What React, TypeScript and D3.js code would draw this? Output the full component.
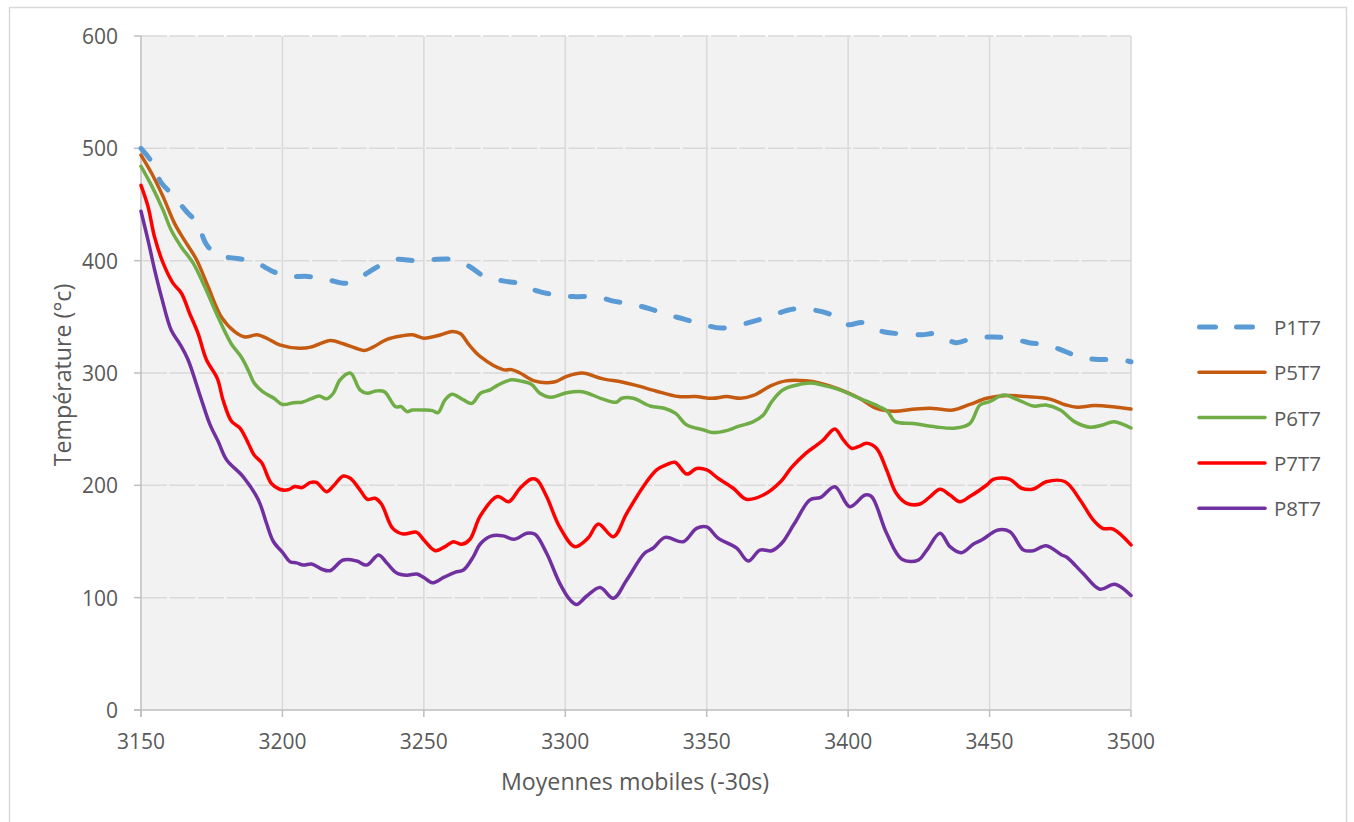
import React from 'react';
import * as d3 from 'd3';

const xTicks = [3150, 3200, 3250, 3300, 3350, 3400, 3450, 3500];
const yTicks = [0, 100, 200, 300, 400, 500, 600];

const P1T7: [number, number][] = [
  [3150, 500], [3152, 494], [3154, 487], [3157, 470], [3161, 459], [3166, 444], [3170, 433], [3173, 415], [3177, 405],
  [3184, 402], [3190, 399], [3197, 390], [3202, 386], [3209, 386], [3216, 383], [3223, 380], [3228, 386],
  [3234, 395], [3240, 401], [3247, 400], [3253, 401], [3260, 401], [3266, 395], [3272, 385], [3278, 382],
  [3285, 379], [3290, 373], [3298, 369], [3303, 368], [3311, 368], [3317, 364], [3324, 361], [3330, 357],
  [3336, 352], [3342, 348], [3349, 343], [3355, 340], [3362, 343], [3368, 347], [3375, 353], [3381, 357],
  [3388, 356], [3394, 352], [3400, 343], [3405, 345], [3412, 337], [3418, 335], [3426, 334], [3431, 335],
  [3438, 327], [3444, 331], [3451, 332], [3457, 331], [3464, 327], [3470, 325], [3476, 320], [3482, 314],
  [3489, 312], [3496, 312], [3500, 310],
];

const P5T7: [number, number][] = [
  [3150, 494], [3153.7, 478], [3157.8, 457], [3161.9, 433], [3165.4, 418], [3169.6, 401], [3173.7, 377], [3178.4, 350],
  [3183, 337], [3186.7, 332], [3191, 334], [3194, 331.5], [3199, 325], [3206, 322], [3210, 323], [3217, 329],
  [3221.5, 326], [3226, 322], [3229, 320], [3232, 323], [3237, 330], [3242, 333], [3246, 334], [3250, 331],
  [3256, 334], [3260, 337], [3263, 335], [3266, 325], [3270, 314.5], [3278, 303], [3281, 303], [3284, 300],
  [3289, 293], [3296, 292], [3300.5, 297], [3306, 300], [3313, 295], [3320, 292], [3325, 289], [3332, 284],
  [3340, 279], [3346, 279], [3352, 277.5], [3357, 279], [3362, 277.5], [3366.5, 280], [3373, 289], [3378, 293],
  [3385, 293], [3390, 291], [3397, 285.5], [3404, 277.5], [3410, 268.5], [3416, 266], [3424, 268], [3430, 268.5],
  [3437, 267], [3443, 272], [3449, 277.5], [3456, 280], [3463, 279], [3471, 277], [3477, 271.5], [3481, 269.5],
  [3487, 271], [3495, 269.5], [3500, 268],
];

const P6T7: [number, number][] = [
  [3150, 484], [3153.7, 467], [3157.8, 445], [3160.7, 427], [3164.3, 412], [3168.4, 398], [3172.5, 377], [3177.2, 350],
  [3181.9, 326], [3185.5, 314], [3188, 302], [3190, 291], [3193, 283.4], [3197, 277.5], [3200, 272], [3204, 273.6],
  [3207, 274], [3210, 277], [3213, 279.5], [3215.6, 277], [3218, 282], [3220.4, 294], [3224, 300], [3227.4, 285],
  [3230, 282], [3233, 284], [3236, 283.4], [3240, 270], [3242, 270], [3244, 265.6], [3246, 267], [3250, 267],
  [3253, 266.5], [3255, 264.7], [3257.5, 276], [3260, 281], [3264, 276], [3267, 273], [3270, 282], [3273.4, 285],
  [3276, 289], [3281, 294], [3284, 293], [3288, 290], [3291, 282], [3295, 278.4], [3300.5, 282.5], [3306, 283.4],
  [3313, 277], [3318, 274], [3320, 277.5], [3324, 277.5], [3330, 270.6], [3335, 268.6], [3339, 264], [3343, 253.7],
  [3349, 249.3], [3352, 247], [3357, 248.7], [3360.6, 252], [3366.5, 256.7], [3370, 262.6], [3373, 274.5], [3377, 285],
  [3382, 289.3], [3387, 291], [3392, 288.5], [3397, 285], [3404, 277.5], [3411, 270], [3414, 265.6], [3416.6, 256.7],
  [3423, 255], [3431, 252], [3438, 251], [3443, 255], [3446.6, 271.5], [3450, 274.5], [3455, 280.4], [3459.6, 276.6],
  [3465.5, 270.6], [3470, 271.5], [3475, 267], [3480, 256.7], [3485.5, 251.7], [3490, 253.7], [3494, 256.7], [3500, 251],
];

const P7T7: [number, number][] = [
  [3150, 467], [3152.5, 448], [3154.8, 421], [3157.8, 398], [3161.3, 380], [3164.3, 371], [3167.2, 353], [3170.2, 335],
  [3173.1, 312], [3177, 295], [3179, 276], [3182, 257], [3185, 251], [3188, 237], [3190, 227], [3192.7, 220],
  [3196, 202], [3199, 196.5], [3202, 196], [3204.4, 199], [3207, 198], [3209.7, 202.4], [3212, 202.7], [3215.6, 194.3],
  [3218, 199.4], [3221.5, 208.3], [3224, 206.3], [3227.4, 196], [3230, 187.6], [3232.7, 188.5], [3235, 183.4], [3239, 161.7],
  [3242.7, 156.7], [3247.5, 158.2], [3250, 151.3], [3254, 141.8], [3257.5, 145.4], [3260.4, 149.8], [3263.4, 147.5], [3266.3, 152],
  [3270, 173], [3276, 190], [3280, 185.4], [3284, 197.4], [3288, 205.6], [3290, 204.8], [3293.4, 190], [3298, 163],
  [3303.4, 145.4], [3308, 153], [3311.7, 165.6], [3317, 154.3], [3321.7, 175], [3327.6, 199], [3332.3, 213.7], [3336, 218.7],
  [3338.8, 220.5], [3343, 210], [3346.4, 215], [3350, 213.7], [3354, 206.3], [3359.4, 197.4], [3364, 187.6], [3370, 191.4],
  [3376, 203], [3380, 216], [3385, 228.5], [3389, 236], [3391.2, 240.4], [3395.3, 250.2], [3398.3, 240.4], [3401.2, 233],
  [3403.6, 234.4], [3406.5, 237.4], [3410, 233], [3413.6, 213.7], [3417, 193], [3420.7, 184], [3425.4, 183.4], [3429, 190],
  [3432.5, 196.5], [3436, 191.4], [3439.5, 185.4], [3443, 190], [3449, 200.3], [3451.3, 205.4], [3457, 205.6], [3461.3, 197.4],
  [3465.5, 196.7], [3470, 203.2], [3476.7, 203.2], [3482, 187], [3486.7, 169], [3490, 161.7], [3493.7, 161], [3500, 147],
];

const P8T7: [number, number][] = [
  [3150, 444], [3152.5, 418], [3154.8, 392], [3157.2, 368], [3160.7, 338], [3163.7, 326], [3166.6, 312], [3171, 279],
  [3174.4, 254], [3177.3, 239], [3180.3, 222.6], [3186, 208], [3191.5, 187], [3194.4, 166], [3196.8, 150], [3200.3, 139.5],
  [3202.7, 132], [3205, 131], [3207.4, 129], [3210.3, 130], [3214, 125.3], [3216.8, 124], [3221.5, 133.5], [3226.3, 132.6],
  [3229.8, 129], [3234, 138], [3237, 130.6], [3240.4, 122], [3244, 120], [3247.5, 121], [3250, 118], [3253, 113.3],
  [3257, 118], [3261, 122.6], [3264, 124.6], [3267.5, 136.5], [3270, 148], [3274, 155], [3278, 155], [3282, 152],
  [3286.4, 157.3], [3289.3, 156.4], [3293.4, 139.5], [3298, 113], [3301.7, 98], [3304, 94], [3307.6, 101.5], [3312.3, 109],
  [3317, 99.4], [3321.7, 115.7], [3328, 139.5], [3331, 144], [3335.3, 153.7], [3341.7, 149.8], [3346.4, 161.7], [3350, 163],
  [3354, 153], [3360.6, 144], [3364.7, 132.6], [3368.8, 142.4], [3373, 141.8], [3376.5, 148.4], [3381, 166], [3386.5, 187],
  [3390.3, 189.3], [3395.3, 198.8], [3400.6, 181], [3406, 191.4], [3408.3, 190], [3413.6, 157.3], [3419, 134.2], [3424.8, 133.5],
  [3427.8, 142.4], [3432.5, 157.3], [3436, 145.4], [3440, 140], [3444.3, 147.8], [3447.2, 151.3], [3453, 160.2], [3457.2, 158.7],
  [3462, 142.4], [3465.5, 141.8], [3470, 146.3], [3475.5, 138], [3477.3, 136], [3483, 121.7], [3489, 107.5], [3494.3, 112],
  [3500, 102],
];

const seriesNames = ['P1T7', 'P5T7', 'P6T7', 'P7T7', 'P8T7'];
const seriesData = [P1T7, P5T7, P6T7, P7T7, P8T7];
const seriesColors = ['#5b9bd5', '#c55a11', '#70ad47', '#ff0000', '#7030a0'];
const seriesDashed = [true, false, false, false, false];

const xTitle = 'Moyennes mobiles (-30s)';
const yTitle = 'Température (°c)';

const FONT = "'Open Sans', 'Noto Sans', sans-serif";
const TEXT = '#595959';

export default function App() {
  const W = 1354;
  const H = 822;
  const left = 141, right = 1131, top = 36, bottom = 710;
  const x = d3.scaleLinear().domain([3150, 3500]).range([left, right]);
  const y = d3.scaleLinear().domain([0, 600]).range([bottom, top]);
  const line = d3
    .line<[number, number]>()
    .x((d) => x(d[0]))
    .y((d) => y(d[1]))
    .curve(d3.curveCatmullRom.alpha(0.5));

  const legendX0 = 1197, legendX1 = 1267, legendY0 = 327, legendDy = 45.3;

  return (
    <svg width={W} height={H} style={{ position: 'absolute', left: 0, top: 0 }} fontFamily={FONT}>
      <rect x={0} y={0} width={W} height={H} fill="#ffffff" />
      <rect x={9.5} y={7.5} width={1337} height={840} fill="#ffffff" stroke="#d9d9d9" strokeWidth={1.5} />
      <rect x={left} y={top} width={right - left} height={bottom - top} fill="#f2f2f2" />
      {yTicks.filter((t) => t > 0).map((t) => (
        <line key={'hg' + t} x1={left} x2={right} y1={y(t)} y2={y(t)} stroke="#d9d9d9" strokeWidth={1.5} strokeDasharray="26 2.5" />
      ))}
      {xTicks.filter((t) => t > 3150).map((t) => (
        <line key={'vg' + t} x1={x(t)} x2={x(t)} y1={top} y2={bottom} stroke="#d9d9d9" strokeWidth={1.5} />
      ))}
      <line x1={left} x2={left} y1={top} y2={bottom + 7} stroke="#bfbfbf" strokeWidth={1.5} />
      <line x1={left - 7} x2={right} y1={bottom} y2={bottom} stroke="#bfbfbf" strokeWidth={1.5} />
      {yTicks.map((t) => (
        <line key={'yt' + t} x1={left - 7} x2={left} y1={y(t)} y2={y(t)} stroke="#bfbfbf" strokeWidth={1.5} />
      ))}
      {xTicks.map((t) => (
        <line key={'xt' + t} x1={x(t)} x2={x(t)} y1={bottom} y2={bottom + 7} stroke="#bfbfbf" strokeWidth={1.5} />
      ))}
      {yTicks.map((t) => (
        <text key={'yl' + t} x={118} y={y(t)} textAnchor="end" dominantBaseline="central" fontSize={21} fill={TEXT}>
          {t}
        </text>
      ))}
      {xTicks.map((t) => (
        <text key={'xl' + t} x={x(t)} y={741} textAnchor="middle" dominantBaseline="central" fontSize={21} fill={TEXT}>
          {t}
        </text>
      ))}
      <text x={635} y={781} textAnchor="middle" dominantBaseline="central" fontSize={23.2} fill={TEXT}>
        {xTitle}
      </text>
      <text
        transform={`translate(62,${375}) rotate(-90)`}
        textAnchor="middle"
        dominantBaseline="central"
        fontSize={23.2}
        fill={TEXT}
      >
        {yTitle}
      </text>
      {seriesData.map((data, i) => (
        <path
          key={seriesNames[i]}
          d={line(data) || ''}
          fill="none"
          stroke={seriesColors[i]}
          strokeWidth={seriesDashed[i] ? 5 : 3.5}
          strokeDasharray={seriesDashed[i] ? '14 22' : undefined}
          strokeLinecap="round"
          strokeLinejoin="round"
        />
      ))}
      {seriesNames.map((name, i) => {
        const ly = legendY0 + i * legendDy;
        return (
          <g key={'lg' + name}>
            <line
              x1={legendX0 + (seriesDashed[i] ? 2.5 : 2)}
              x2={legendX1 - 2}
              y1={ly}
              y2={ly}
              stroke={seriesColors[i]}
              strokeWidth={seriesDashed[i] ? 5 : 3.5}
              strokeDasharray={seriesDashed[i] ? '16 21' : undefined}
              strokeLinecap="round"
            />
            <text x={1274} y={ly} dominantBaseline="central" fontSize={20.5} fill={TEXT}>
              {name}
            </text>
          </g>
        );
      })}
    </svg>
  );
}
